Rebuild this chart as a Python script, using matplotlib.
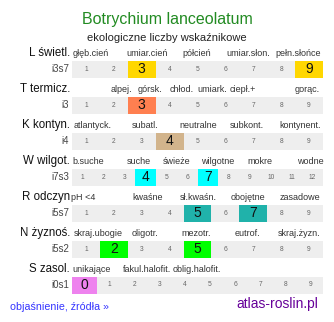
import matplotlib
matplotlib.use("Agg")
import matplotlib.pyplot as plt

plt.rcParams['font.family'] = ['Liberation Sans', 'DejaVu Sans']

# ---- data ----
title = "Botrychium lanceolatum"
subtitle = "ekologiczne liczby wskaźnikowe"

row_names = ["L świetl.", "T termicz.", "K kontyn.", "W wilgot.", "R odczyn", "N żyznoś.", "S zasol."]
row_codes = ["i3s7", "i3", "i4", "i7s3", "i5s7", "i5s2", "i0s1"]
scale_min = [1, 1, 1, 1, 1, 1, 0]
scale_max = [9, 9, 9, 12, 9, 9, 9]
highlighted = [[3, 9], [3], [4], [4, 7], [5, 7], [2, 5], [0]]
row_colors = ["#FFD700", "#FF7F50", "#D2B48C", "#00FFFF", "#20B2AA", "#00FF00", "#EE82EE"]

cat_labels = [
    ["głęb.cień", "umiar.cień", "półcień", "umiar.słon.", "pełn.słońce"],
    ["alpej.", "górsk.", "chłod.", "umiark.", "ciepł.+", "gorąc."],
    ["atlantyck.", "subatl.", "neutralne", "subkont.", "kontynent."],
    ["b.suche", "suche", "świeże", "wilgotne", "mokre", "wodne"],
    ["pH <4", "kwaśne", "sł.kwaśn.", "obojętne", "zasadowe"],
    ["skraj.ubogie", "oligotr.", "mezotr.", "eutrof.", "skraj.żyzn."],
    ["unikające", "fakul.halofit.", "oblig.halofit."],
]
# label centres (pixels) - layout only
cat_x = [
    [91, 147, 197, 248, 298],
    [121, 150, 182, 212, 243, 307],
    [93, 145, 198, 247, 300],
    [88, 139, 177, 218, 260, 310],
    [83, 148, 198, 248, 300],
    [98, 145, 196, 247, 299],
    [92, 147, 197],
]

# ---- layout (pixels) ----
W, H = 334, 322
x0, x1 = 72, 323
row_top = 53
row_step = 36
bar_off = 16
bar_h = 17

fig = plt.figure(figsize=(W / 100, H / 100), dpi=100)
ax = fig.add_axes([0, 0, 1, 1])
ax.set_xlim(0, W)
ax.set_ylim(H, 0)
ax.axis('off')

ax.text(167, 19, title, ha='center', va='center', fontsize=11.5, color='#228B22')
ax.text(167, 38, subtitle, ha='center', va='center', fontsize=8, color='#222222')

for r, name in enumerate(row_names):
    yh = row_top + r * row_step
    yb = yh + bar_off
    ax.text(70, yh, name, ha='right', va='center', fontsize=8.3, color='#111111')
    ax.text(69, yb, row_codes[r], ha='right', va='center', fontsize=7, color='#444444')
    for lab, cx in zip(cat_labels[r], cat_x[r]):
        ax.text(cx, yh, lab, ha='center', va='center', fontsize=6.5, color='#333333')

    vals = list(range(scale_min[r], scale_max[r] + 1))
    cw = (x1 - x0) / len(vals)
    lefts = [x0 + i * cw for i in range(len(vals))]
    cols = [row_colors[r] if v in highlighted[r] else '#EEEEEE' for v in vals]
    ax.barh([yb] * len(vals), [cw] * len(vals), left=lefts, height=bar_h,
            color=cols, linewidth=0)
    for v, lx in zip(vals, lefts):
        if v in highlighted[r]:
            ax.text(lx + cw / 2, yb, str(v), ha='center', va='center',
                    fontsize=10, color='#111111')
        else:
            ax.text(lx + cw / 2, yb, str(v), ha='center', va='center',
                    fontsize=4.8, color='#666666')

ax.text(10, 307, "objaśnienie, źródła »", ha='left', va='center', fontsize=7.7, color='#3333FF')
ax.text(318, 304, "atlas-roslin.pl", ha='right', va='center', fontsize=10, color='#660099')

fig.savefig("out.png", dpi=100)
